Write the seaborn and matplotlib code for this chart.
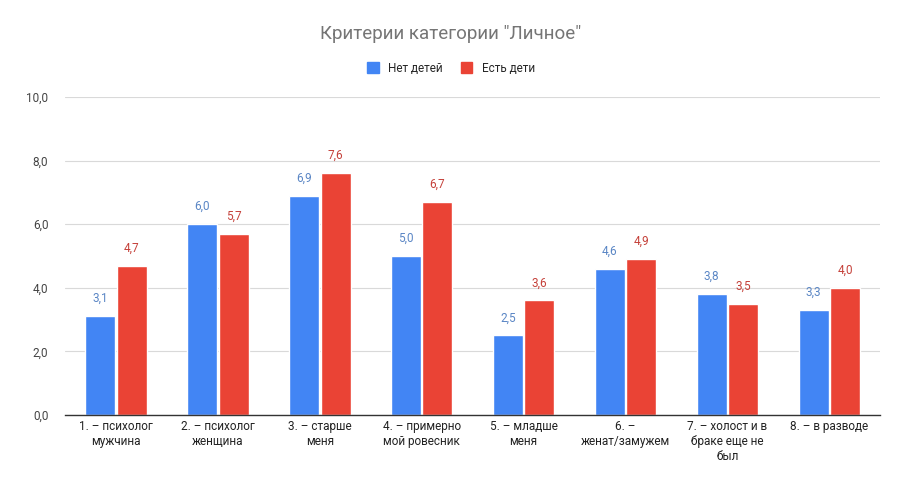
import matplotlib
import pandas as pd

matplotlib.use("Agg")
import matplotlib.pyplot as plt
import seaborn as sns

CATEGORIES = [
    "1. – психолог\nмужчина",
    "2. – психолог\nженщина",
    "3. – старше\nменя",
    "4. – примерно\nмой ровесник",
    "5. – младше\nменя",
    "6. –\nженат/замужем",
    "7. – холост и в\nбраке еще не\nбыл",
    "8. – в разводе",
]
NO_KIDS = [3.1, 6.0, 6.9, 5.0, 2.5, 4.6, 3.8, 3.3]
WITH_KIDS = [4.7, 5.7, 7.6, 6.7, 3.6, 4.9, 3.5, 4.0]
SERIES = ["Нет детей", "Есть дети"]
COLORS = ["#4285F4", "#EA4335"]
LABEL_COLORS = ["#5A86C5", "#C5413A"]


def build_dataframe():
    rows = []
    for cat, a, b in zip(CATEGORIES, NO_KIDS, WITH_KIDS):
        rows.append({"Категория": cat, "Серия": SERIES[0], "Значение": a})
        rows.append({"Категория": cat, "Серия": SERIES[1], "Значение": b})
    return pd.DataFrame(rows)


def main():
    sns.set_theme(style="white")
    plt.rcParams["font.family"] = ["Roboto", "DejaVu Sans"]

    df = build_dataframe()
    fig = plt.figure(figsize=(9.02, 4.83), dpi=100)
    ax = fig.add_axes([0.072, 0.141, 0.904, 0.658])

    sns.barplot(
        data=df,
        x="Категория",
        y="Значение",
        hue="Серия",
        palette=COLORS,
        saturation=1,
        width=0.62,
        gap=0.05,
        ax=ax,
        legend=False,
    )

    for container, color in zip(ax.containers, LABEL_COLORS):
        labels = [f"{bar.get_height():.1f}".replace(".", ",") for bar in container]
        ax.bar_label(container, labels=labels, padding=8, color=color, fontsize=8.5)

    ax.set_ylim(0, 10)
    ax.set_yticks([0, 2, 4, 6, 8, 10])
    ax.set_yticklabels([f"{v:.1f}".replace(".", ",") for v in [0, 2, 4, 6, 8, 10]],
                       fontsize=8.5, color="#444444")
    ax.tick_params(axis="x", labelsize=8.5, colors="#222222", length=0)
    ax.tick_params(axis="y", length=0, pad=12)
    ax.yaxis.grid(True, color="#D9D9D9", linewidth=0.8)
    ax.set_axisbelow(True)
    ax.set_xlabel("")
    ax.set_ylabel("")
    for side in ["top", "right", "left"]:
        ax.spines[side].set_visible(False)
    ax.spines["bottom"].set_color("#333333")
    ax.spines["bottom"].set_linewidth(1.0)
    ax.set_xlim(-0.5, len(CATEGORIES) - 0.5)

    fig.text(0.5, 0.93, 'Критерии категории "Личное"', ha="center", va="center",
             fontsize=13.5, color="#757575")

    handles = [plt.Rectangle((0, 0), 1, 1, color=c) for c in COLORS]
    fig.legend(handles, SERIES, loc="center", bbox_to_anchor=(0.5, 0.859), ncol=2,
               frameon=False, fontsize=8.5, handlelength=1.0, handleheight=1.0,
               columnspacing=1.5, handletextpad=0.8)

    fig.savefig("out.png", dpi=100, facecolor="white")
    plt.close(fig)


if __name__ == "__main__":
    main()
